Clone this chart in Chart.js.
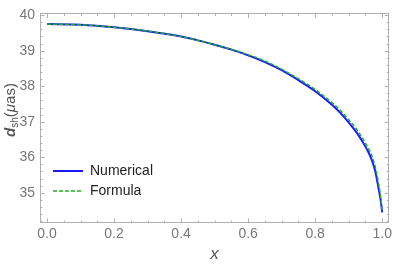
<!DOCTYPE html>
<html>
<head>
<meta charset="utf-8">
<script src="https://cdn.jsdelivr.net/npm/chart.js@4/dist/chart.umd.min.js"></script>
<style>
html,body{margin:0;padding:0;background:#fff;}
#wrap{width:395px;height:264px;}
</style>
</head>
<body>
<div id="wrap"><canvas id="c" width="395" height="264"></canvas></div>
<script>
const xValues = [0,0.1,0.2,0.3,0.4,0.45,0.5,0.55,0.6,0.65,0.7,0.75,0.8,0.85,0.875,0.9,0.925,0.95,0.96,0.97,0.98,0.99,0.995,1.0];
const numericalValues = [39.75,39.73,39.66,39.55,39.40,39.29,39.17,39.03,38.87,38.68,38.45,38.17,37.86,37.48,37.25,36.98,36.68,36.30,36.12,35.90,35.58,35.08,34.82,34.45];
const formulaValues = [39.75,39.73,39.66,39.55,39.40,39.29,39.17,39.04,38.89,38.71,38.48,38.21,37.91,37.54,37.32,37.06,36.77,36.40,36.23,36.02,35.71,35.22,34.92,34.45];
const xTickLabels = [0.0,0.2,0.4,0.6,0.8,1.0];
const yTickLabels = [35,36,37,38,39,40];
const seriesNames = ["Numerical","Formula"];

const FONT = "'Liberation Sans', Arial, sans-serif";
const GRAY = '#b0b0b0';

const framePlugin = {
  id: 'frame',
  afterDraw(chart) {
    const ctx = chart.ctx, a = chart.chartArea;
    const xs = chart.scales.x, ys = chart.scales.y;
    ctx.save();
    ctx.strokeStyle = GRAY; ctx.lineWidth = 1;
    ctx.strokeRect(Math.round(a.left)+0.5, Math.round(a.top)+0.5, Math.round(a.right-a.left)-1, Math.round(a.bottom-a.top)-1);
    for (let v = 0; v <= 1.0001; v += 0.05) {
      const px = Math.round(xs.getPixelForValue(v)) + 0.5;
      const major = Math.abs(v*5 - Math.round(v*5)) < 1e-6;
      const len = major ? 4.5 : 2.5;
      ctx.beginPath();
      ctx.moveTo(px, a.bottom); ctx.lineTo(px, a.bottom - len);
      ctx.moveTo(px, a.top); ctx.lineTo(px, a.top + len);
      ctx.stroke();
    }
    for (let v = 34.2; v <= 40.0001; v += 0.2) {
      const py = Math.round(ys.getPixelForValue(v)) + 0.5;
      const major = Math.abs(v - Math.round(v)) < 1e-6;
      const len = major ? 4.5 : 2.5;
      ctx.beginPath();
      ctx.moveTo(a.left, py); ctx.lineTo(a.left + len, py);
      ctx.moveTo(a.right, py); ctx.lineTo(a.right - len, py);
      ctx.stroke();
    }
    ctx.fillStyle = '#555';
    ctx.font = "italic 17px " + FONT;
    ctx.textAlign = 'center'; ctx.textBaseline = 'alphabetic';
    ctx.fillText('x', (a.left + a.right)/2, 259);
    ctx.translate(15, 110);
    ctx.rotate(-Math.PI/2);
    ctx.textAlign = 'left';
    const parts = [
      {t:'d', f:"italic bold 15px " + FONT, dy:0},
      {t:'sh', f:"10px " + FONT, dy:3},
      {t:'(', f:"15px " + FONT, dy:0},
      {t:'μ', f:"italic 15px " + FONT, dy:0},
      {t:'as)', f:"15px " + FONT, dy:0}
    ];
    let w = 0;
    parts.forEach(p => { ctx.font = p.f; w += ctx.measureText(p.t).width; });
    let x0 = -w/2;
    parts.forEach(p => { ctx.font = p.f; ctx.fillText(p.t, x0, p.dy); x0 += ctx.measureText(p.t).width; });
    ctx.restore();
    ctx.save();
    const items = chart.data.datasets;
    const ly = [171, 191];
    items.forEach((ds, i) => {
      ctx.strokeStyle = ds.borderColor;
      ctx.lineWidth = ds.borderWidth;
      ctx.setLineDash(ds.borderDash || []);
      ctx.beginPath();
      ctx.moveTo(53, ly[i]); ctx.lineTo(83, ly[i]);
      ctx.stroke();
      ctx.setLineDash([]);
      ctx.fillStyle = '#222';
      ctx.font = "14px " + FONT;
      ctx.textAlign = 'left'; ctx.textBaseline = 'middle';
      ctx.fillText(ds.label, 90, ly[i]);
    });
    ctx.restore();
  }
};

new Chart(document.getElementById('c'), {
  type: 'line',
  data: {
    datasets: [
      {
        label: seriesNames[0],
        data: xValues.map((x, i) => ({x: x, y: numericalValues[i]})),
        borderColor: '#1a1aff', borderWidth: 2, pointRadius: 0,
        cubicInterpolationMode: 'monotone', order: 2, fill: false
      },
      {
        label: seriesNames[1],
        data: xValues.map((x, i) => ({x: x, y: formulaValues[i]})),
        borderColor: '#22b022', borderWidth: 1.5, borderDash: [4, 2], pointRadius: 0,
        cubicInterpolationMode: 'monotone', order: 1, fill: false
      }
    ]
  },
  options: {
    responsive: false, animation: false, devicePixelRatio: 1,
    layout: { padding: { top: 6, right: 4, left: 0, bottom: 0 } },
    plugins: { legend: { display: false }, tooltip: { enabled: false } },
    scales: {
      x: {
        type: 'linear', min: -0.021, max: 1.021,
        grid: { display: false, drawTicks: false },
        border: { display: false },
        afterBuildTicks: s => { s.ticks = xTickLabels.map(v => ({value: v})); },
        afterFit: s => { s.height = 41; },
        ticks: { color: '#777', font: { family: FONT, size: 14 }, padding: 3,
                 maxRotation: 0, autoSkip: false, callback: v => Number(v).toFixed(1) }
      },
      y: {
        type: 'linear', min: 34.15, max: 40.05,
        grid: { display: false, drawTicks: false },
        border: { display: false },
        afterBuildTicks: s => { s.ticks = yTickLabels.map(v => ({value: v})); },
        afterFit: s => { s.width = 40; },
        ticks: { color: '#777', font: { family: FONT, size: 14 }, padding: 5,
                 autoSkip: false, callback: v => String(v) }
      }
    }
  },
  plugins: [framePlugin]
});
</script>
</body>
</html>
